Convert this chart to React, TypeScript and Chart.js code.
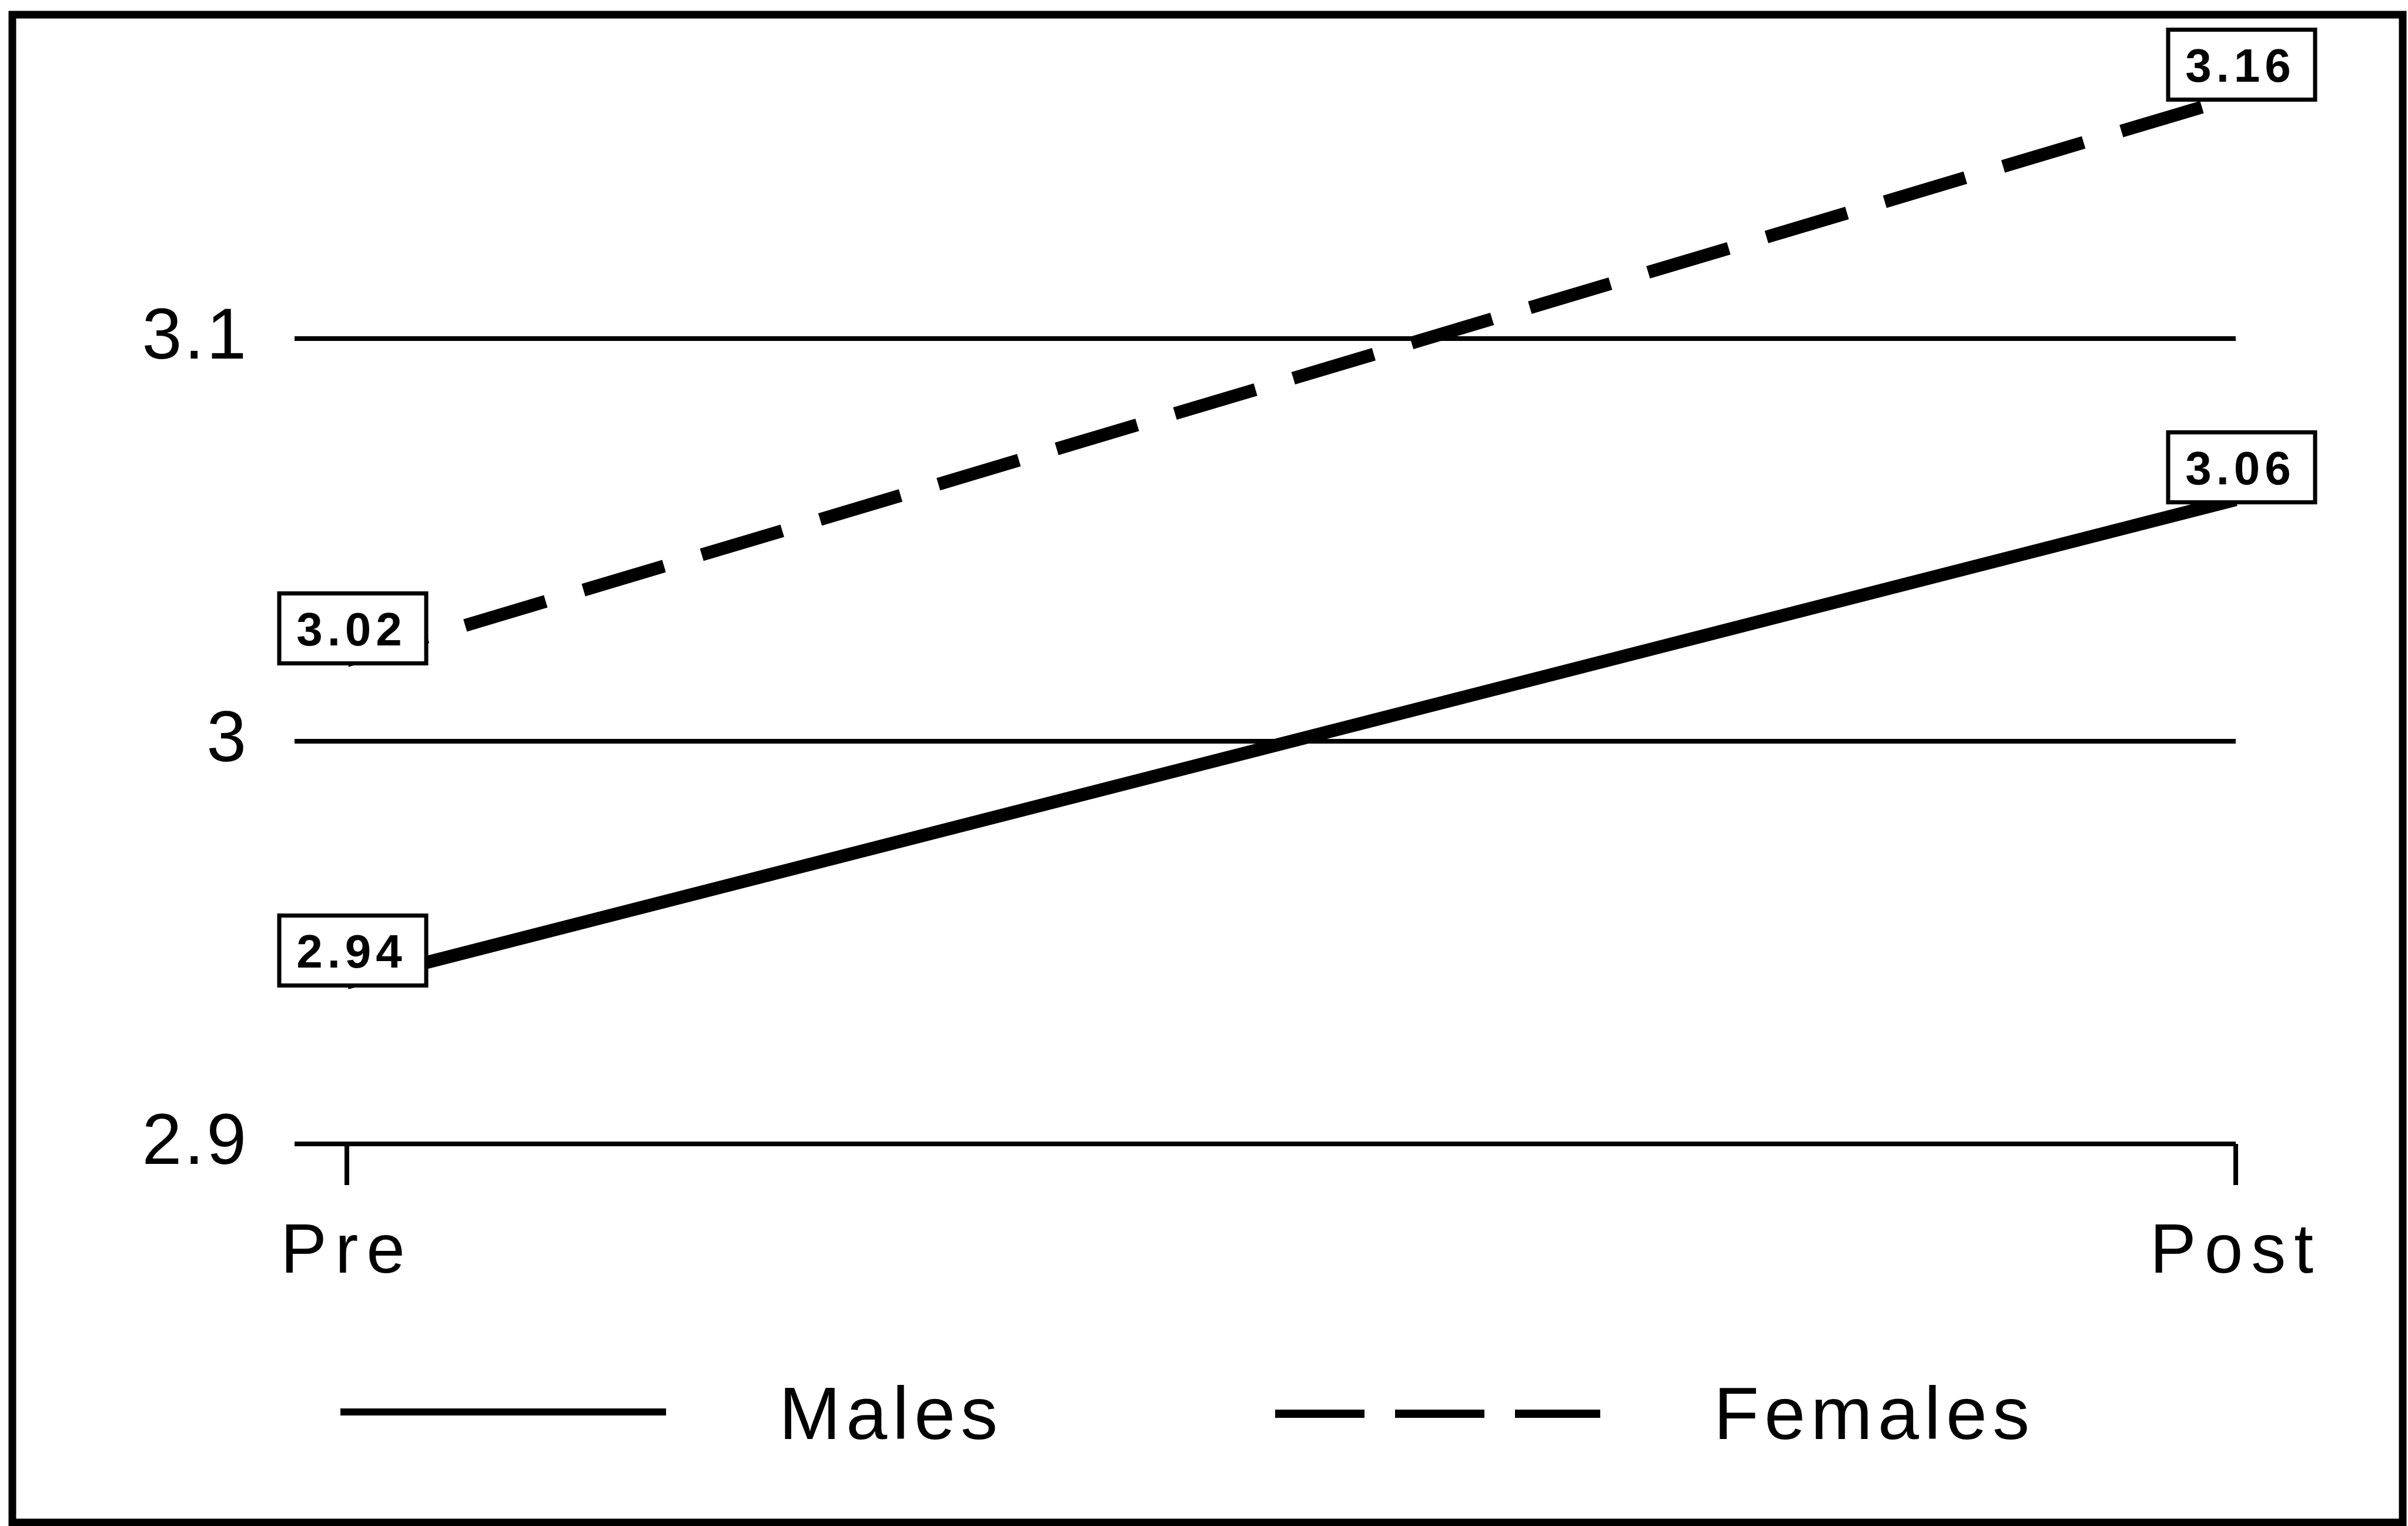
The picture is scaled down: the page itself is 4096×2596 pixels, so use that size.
import React, { useEffect, useRef } from 'react';
import { Chart, registerables } from 'chart.js';

Chart.register(...registerables);

// ---- data ----
const categories = ['Pre', 'Post'];
const males = [2.94, 3.06];
const females = [3.02, 3.16];
const seriesNames = ['Males', 'Females'];
const yTicks = [2.9, 3.0, 3.1];
const yTickLabels = ['2.9', '3', '3.1'];
const yMin = 2.9;
const yMax = 3.18;

// ---- layout / style ----
const W = 4096;
const H = 2596;
const FONT = "'Liberation Sans', Arial, Helvetica, sans-serif";

const framePlugin = {
  id: 'frame',
  beforeDraw(chart: any) {
    const ctx = chart.ctx;
    ctx.save();
    ctx.fillStyle = '#fff';
    ctx.fillRect(0, 0, W, H);
    ctx.strokeStyle = '#000';
    ctx.lineWidth = 13;
    ctx.strokeRect(21, 25, 4087 - 21, 2590 - 25);
    ctx.restore();
    ctx.letterSpacing = '4px';
  },
};

const valueLabelPlugin = {
  id: 'valueLabels',
  afterDatasetsDraw(chart: any) {
    const ctx = chart.ctx;
    const bw = 250;
    const bh = 119;
    chart.data.datasets.forEach((ds: any, i: number) => {
      const meta = chart.getDatasetMeta(i);
      meta.data.forEach((pt: any, j: number) => {
        const v = ds.data[j].y;
        const cx = pt.x + 10;
        const cy = pt.y - 55;
        ctx.save();
        ctx.fillStyle = '#fff';
        ctx.fillRect(cx - bw / 2, cy - bh / 2, bw, bh);
        ctx.strokeStyle = '#000';
        ctx.lineWidth = 7;
        ctx.strokeRect(cx - bw / 2, cy - bh / 2, bw, bh);
        ctx.font = `bold 80px ${FONT}`;
        ctx.letterSpacing = '8px';
        ctx.fillStyle = '#000';
        ctx.textAlign = 'left';
        ctx.textBaseline = 'alphabetic';
        const txt = v.toFixed(2);
        const w = ctx.measureText(txt).width - 8;
        ctx.fillText(txt, cx - w / 2 - 6, cy + 29);
        ctx.restore();
      });
    });
    // letter spacing for x-axis labels drawn after this hook
    ctx.letterSpacing = '14px';
  },
};

const legendPlugin = {
  id: 'customLegend',
  afterDraw(chart: any) {
    const ctx = chart.ctx;
    ctx.save();
    ctx.strokeStyle = '#000';
    ctx.lineCap = 'butt';
    // Males sample
    ctx.lineWidth = 12;
    ctx.setLineDash([]);
    ctx.beginPath();
    ctx.moveTo(579, 2402);
    ctx.lineTo(1133, 2402);
    ctx.stroke();
    // Females sample
    ctx.lineWidth = 14;
    ctx.setLineDash([152, 52]);
    ctx.beginPath();
    ctx.moveTo(2169, 2405);
    ctx.lineTo(2722, 2405);
    ctx.stroke();
    ctx.setLineDash([]);
    ctx.font = `126px ${FONT}`;
    ctx.letterSpacing = '9px';
    ctx.fillStyle = '#000';
    ctx.textAlign = 'left';
    ctx.textBaseline = 'alphabetic';
    ctx.fillText(chart.data.datasets[0].label, 1325, 2448);
    ctx.fillText(chart.data.datasets[1].label, 2915, 2448);
    ctx.restore();
    ctx.letterSpacing = '0px';
  },
};

export default function App() {
  const ref = useRef<HTMLCanvasElement | null>(null);

  useEffect(() => {
    if (!ref.current) return;
    const chart = new Chart(ref.current, {
      type: 'line',
      data: {
        datasets: [
          {
            label: seriesNames[0],
            data: categories.map((_, i) => ({ x: i, y: males[i] })),
            borderColor: '#000',
            borderWidth: 22,
            pointRadius: 0,
            tension: 0,
            fill: false,
            clip: false as any,
            borderCapStyle: 'butt',
          },
          {
            label: seriesNames[1],
            data: categories.map((_, i) => ({ x: i, y: females[i] })),
            borderColor: '#000',
            borderWidth: 22,
            borderDash: [143, 67],
            borderDashOffset: 0,
            pointRadius: 0,
            tension: 0,
            fill: false,
            clip: false as any,
            borderCapStyle: 'butt',
          },
        ],
      },
      options: {
        responsive: false,
        devicePixelRatio: 1,
        animation: false,
        events: [],
        layout: { autoPadding: false, padding: { left: 0, top: 28, right: 293, bottom: 0 } },
        plugins: { legend: { display: false }, tooltip: { enabled: false } },
        scales: {
          x: {
            type: 'linear',
            bounds: 'data',
            min: -0.0277,
            max: 1,
            afterBuildTicks: (s: any) => {
              s.ticks = categories.map((_, i) => ({ value: i }));
            },
            afterFit: (s: any) => {
              s.height = 650;
              s.paddingLeft = 0;
              s.paddingRight = 0;
              s.paddingTop = 0;
              s.paddingBottom = 0;
            },
            ticks: {
              callback: (v: any) => categories[v as number],
              font: { family: FONT, size: 118 },
              color: '#000',
              padding: 46,
              maxRotation: 0,
              autoSkip: false,
              includeBounds: false,
              z: 1,
            },
            grid: {
              drawOnChartArea: false,
              drawTicks: true,
              tickLength: 70,
              color: '#000',
              lineWidth: 8,
              tickWidth: 8,
            },
            border: { display: false },
          },
          y: {
            type: 'linear',
            bounds: 'data',
            min: yMin,
            max: yMax,
            afterBuildTicks: (s: any) => {
              s.ticks = yTicks.map((v) => ({ value: v }));
            },
            afterFit: (s: any) => {
              s.width = 501;
              s.paddingLeft = 0;
              s.paddingRight = 0;
              s.paddingTop = 0;
              s.paddingBottom = 0;
            },
            ticks: {
              callback: (v: any) => yTickLabels[yTicks.findIndex((t) => Math.abs(t - v) < 1e-6)],
              font: { family: FONT, size: 122 },
              color: '#000',
              padding: 78,
              includeBounds: false,
            },
            grid: { color: '#000', lineWidth: 8, drawTicks: false },
            border: { display: false },
          },
        },
      } as any,
      plugins: [framePlugin, valueLabelPlugin, legendPlugin],
    });
    return () => chart.destroy();
  }, []);

  return (
    <div style={{ position: 'fixed', left: 0, top: 0, width: W, height: H, background: '#fff' }}>
      <canvas ref={ref} width={W} height={H} style={{ width: W, height: H, display: 'block' }} />
    </div>
  );
}
